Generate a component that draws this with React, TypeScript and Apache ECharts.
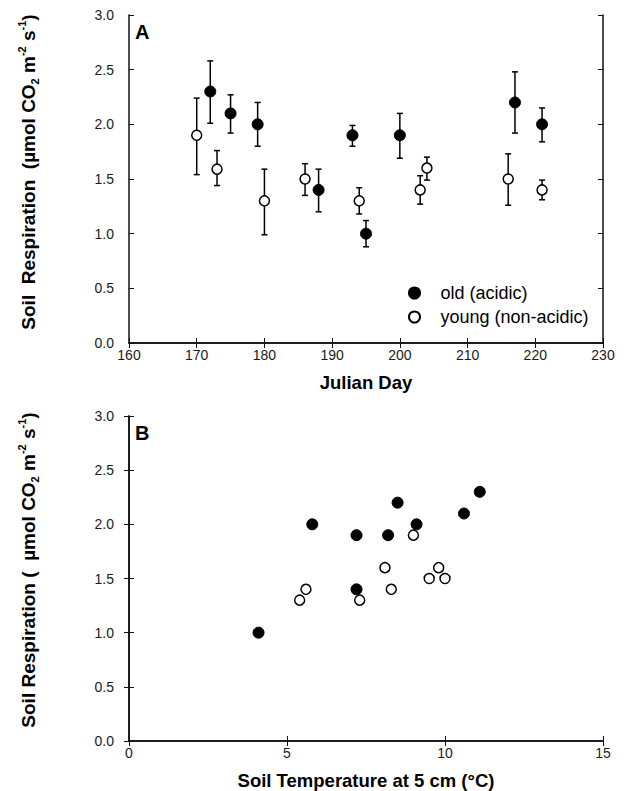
import React, { useEffect, useRef } from "react";
import * as echarts from "echarts";

// Panel A: soil respiration by Julian day (mean with error bars)
const daysOld = [172, 175, 179, 188, 193, 195, 200, 217, 221];
const respOld = [2.3, 2.1, 2.0, 1.4, 1.9, 1.0, 1.9, 2.2, 2.0];
const errOldLow = [2.01, 1.92, 1.8, 1.2, 1.8, 0.88, 1.69, 1.92, 1.84];
const errOldHigh = [2.58, 2.27, 2.2, 1.59, 1.99, 1.12, 2.1, 2.48, 2.15];

const daysYoung = [170, 173, 180, 186, 194, 203, 204, 216, 221];
const respYoung = [1.9, 1.59, 1.3, 1.5, 1.3, 1.4, 1.6, 1.5, 1.4];
const errYoungLow = [1.54, 1.44, 0.99, 1.35, 1.18, 1.27, 1.49, 1.26, 1.31];
const errYoungHigh = [2.24, 1.76, 1.59, 1.64, 1.42, 1.53, 1.7, 1.73, 1.49];

// Panel B: soil respiration vs soil temperature at 5 cm
const tempOld = [4.1, 5.8, 7.2, 7.2, 8.2, 8.5, 9.1, 10.6, 11.1];
const respTempOld = [1.0, 2.0, 1.9, 1.4, 1.9, 2.2, 2.0, 2.1, 2.3];
const tempYoung = [5.4, 5.6, 7.3, 8.1, 8.3, 9.0, 9.5, 9.8, 10.0];
const respTempYoung = [1.3, 1.4, 1.3, 1.6, 1.4, 1.9, 1.5, 1.6, 1.5];

const seriesNames = ["old (acidic)", "young (non-acidic)"];

const FONT = "'Liberation Sans', Arial, Helvetica, sans-serif";
const INK = "#000";

const zip = (a: number[], b: number[]) => a.map((v, i) => [v, b[i]]);
const zip3 = (a: number[], b: number[], c: number[]) => a.map((v, i) => [v, b[i], c[i]]);

const errorBarRender = (params: any, api: any) => {
  const x = api.value(0);
  const lo = api.value(1);
  const hi = api.value(2);
  const top = api.coord([x, hi]);
  const bot = api.coord([x, lo]);
  const hw = 3;
  const st = { stroke: INK, lineWidth: 1.5 };
  return {
    type: "group",
    children: [
      { type: "line", shape: { x1: top[0], y1: top[1], x2: bot[0], y2: bot[1] }, style: st },
      { type: "line", shape: { x1: top[0] - hw, y1: top[1], x2: top[0] + hw, y2: top[1] }, style: st },
      { type: "line", shape: { x1: bot[0] - hw, y1: bot[1], x2: bot[0] + hw, y2: bot[1] }, style: st },
    ],
  };
};

export default function App() {
  const ref = useRef<HTMLDivElement>(null);

  useEffect(() => {
    document.body.style.margin = "0";
    const chart = echarts.init(ref.current!, null, { renderer: "svg" });

    const axisLine = { show: true, lineStyle: { color: "#111", width: 1.5 } };
    const tick = { show: true, inside: true, length: 5, lineStyle: { color: "#111", width: 1 } };
    const label = { color: "#1a1a1a", fontSize: 14, fontFamily: FONT };

    const xBottom = (grid: number, min: number, max: number, interval: number) => ({
      type: "value",
      gridIndex: grid,
      position: "bottom",
      min,
      max,
      interval,
      axisLine,
      axisTick: tick,
      splitLine: { show: false },
      axisLabel: { ...label, margin: 5 },
    });
    const xTop = (grid: number, min: number, max: number, interval: number) => ({
      type: "value",
      gridIndex: grid,
      position: "top",
      min,
      max,
      interval,
      axisLine,
      axisTick: tick,
      splitLine: { show: false },
      axisLabel: { show: false },
    });
    const yLeft = (grid: number) => ({
      type: "value",
      gridIndex: grid,
      position: "left",
      min: 0,
      max: 3,
      interval: 0.5,
      axisLine,
      axisTick: tick,
      splitLine: { show: false },
      axisLabel: { ...label, margin: 15, formatter: (v: number) => v.toFixed(1) },
    });
    const yRight = (grid: number) => ({
      type: "value",
      gridIndex: grid,
      position: "right",
      min: 0,
      max: 3,
      interval: 0.5,
      axisLine,
      axisTick: tick,
      splitLine: { show: false },
      axisLabel: { show: false },
    });

    const filled = { color: INK, borderColor: INK, borderWidth: 1, opacity: 1 };
    const open = { color: "#fff", borderColor: INK, borderWidth: 1.5, opacity: 1 };

    const yTitleRich = {
      a: { fontSize: 19, fontWeight: "bold", fontFamily: FONT, fill: INK, color: INK, lineHeight: 24, verticalAlign: "middle" },
      sup: { fontSize: 11, fontWeight: "bold", fontFamily: FONT, fill: INK, color: INK, lineHeight: 11, verticalAlign: "top" },
      sub: { fontSize: 11, fontWeight: "bold", fontFamily: FONT, fill: INK, color: INK, lineHeight: 11, verticalAlign: "bottom" },
    };

    const yTitle = (text: string, cx: number, cy: number) => ({
      type: "text",
      x: cx,
      y: cy,
      rotation: Math.PI / 2,
      silent: true,
      style: {
        x: 0,
        y: 0,
        text,
        rich: yTitleRich,
        align: "center",
        verticalAlign: "middle",
        textAlign: "center",
        textVerticalAlign: "middle",
        fill: INK,
      },
    });

    const panelLabel = (text: string, x: number, y: number) => ({
      type: "text",
      x,
      y,
      silent: true,
      style: {
        text,
        fontSize: 20,
        fontWeight: "bold",
        fontFamily: FONT,
        fill: INK,
        align: "left",
        verticalAlign: "middle",
        textAlign: "left",
        textVerticalAlign: "middle",
      },
    });

    const titleStyle = { fontSize: 18.5, fontWeight: "bold", fontFamily: FONT, color: INK };

    chart.setOption({
      animation: false,
      backgroundColor: "#fff",
      textStyle: { fontFamily: FONT },
      grid: [
        { left: 129, top: 15, width: 474, height: 328 },
        { left: 129, top: 416, width: 474, height: 328 },
      ],
      xAxis: [
        {
          ...xBottom(0, 160, 230, 10),
          name: "Julian Day",
          nameLocation: "middle",
          nameGap: 30,
          nameTextStyle: titleStyle,
        },
        xTop(0, 160, 230, 10),
        {
          ...xBottom(1, 0, 15, 5),
          name: "Soil Temperature at 5 cm (°C)",
          nameLocation: "middle",
          nameGap: 30,
          nameTextStyle: titleStyle,
        },
        xTop(1, 0, 15, 5),
      ],
      yAxis: [yLeft(0), yRight(0), yLeft(1), yRight(1)],
      legend: {
        orient: "vertical",
        left: 403,
        top: 279,
        itemWidth: 42,
        itemHeight: 11,
        itemGap: 6,
        data: seriesNames,
        textStyle: { fontSize: 18, fontFamily: FONT, color: INK },
        selectedMode: false,
      },
      graphic: [
        yTitle("{a|Soil  Respiration  (µmol CO}{sub|2}{a| m}{sup|-2}{a| s}{sup|-1}{a|)}", 28, 172),
        yTitle("{a|Soil Respiration (  µmol CO}{sub|2}{a| m}{sup|-2}{a| s}{sup|-1}{a|)}", 28, 570),
        panelLabel("A", 135, 32),
        panelLabel("B", 135, 433),
      ],
      series: [
        {
          name: "old error",
          type: "custom",
          xAxisIndex: 0,
          yAxisIndex: 0,
          z: 1,
          renderItem: errorBarRender,
          data: zip3(daysOld, errOldLow, errOldHigh),
        },
        {
          name: "young error",
          type: "custom",
          xAxisIndex: 0,
          yAxisIndex: 0,
          z: 1,
          renderItem: errorBarRender,
          data: zip3(daysYoung, errYoungLow, errYoungHigh),
        },
        {
          name: seriesNames[0],
          type: "scatter",
          xAxisIndex: 0,
          yAxisIndex: 0,
          z: 3,
          symbol: "circle",
          symbolSize: 11,
          itemStyle: filled,
          data: zip(daysOld, respOld),
        },
        {
          name: seriesNames[1],
          type: "scatter",
          xAxisIndex: 0,
          yAxisIndex: 0,
          z: 3,
          symbol: "circle",
          symbolSize: 10,
          itemStyle: open,
          data: zip(daysYoung, respYoung),
        },
        {
          name: seriesNames[0],
          type: "scatter",
          xAxisIndex: 2,
          yAxisIndex: 2,
          z: 3,
          symbol: "circle",
          symbolSize: 11,
          itemStyle: filled,
          data: zip(tempOld, respTempOld),
        },
        {
          name: seriesNames[1],
          type: "scatter",
          xAxisIndex: 2,
          yAxisIndex: 2,
          z: 3,
          symbol: "circle",
          symbolSize: 10,
          itemStyle: open,
          data: zip(tempYoung, respTempYoung),
        },
      ],
    });

    return () => chart.dispose();
  }, []);

  return <div ref={ref} style={{ width: 625, height: 791 }} />;
}
